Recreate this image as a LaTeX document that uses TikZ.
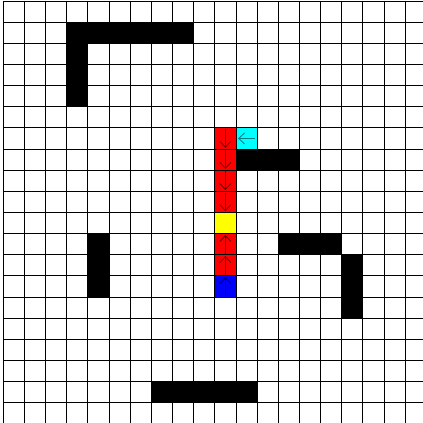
\documentclass[tikz,border=0pt]{standalone}
\usepackage{tikz}
\usetikzlibrary{arrows.meta}
\definecolor{goalcyan}{HTML}{00FFFF}
\definecolor{trailred}{HTML}{FF0000}
\definecolor{markyellow}{HTML}{FFFF00}
\definecolor{startblue}{HTML}{0000FF}

\begin{document}
\begin{tikzpicture}[x=0.5cm, y=-0.5cm,
  wall/.style={fill=black},
  trail/.style={fill=trailred},
  mark cell/.style={fill=markyellow},
  startcell/.style={fill=startblue},
  goalcell/.style={fill=goalcyan},
  gridline/.style={draw=black, line width=0.6pt},
  move/.style={-{Straight Barb[length=1.4mm, width=2.6mm]}, line width=0.55pt}]
  \useasboundingbox (-0.156,-0.047) rectangle (19.844,19.953);
  % walls
  \foreach \c in {3,...,8} \fill[wall] (\c,1) rectangle ++(1,1);
  \foreach \r in {2,...,4} \fill[wall] (3,\r) rectangle ++(1,1);
  \foreach \c in {11,...,13} \fill[wall] (\c,7) rectangle ++(1,1);
  \foreach \r in {11,...,13} \fill[wall] (4,\r) rectangle ++(1,1);
  \foreach \c in {13,...,15} \fill[wall] (\c,11) rectangle ++(1,1);
  \foreach \r in {12,...,14} \fill[wall] (16,\r) rectangle ++(1,1);
  \foreach \c in {7,...,11} \fill[wall] (\c,18) rectangle ++(1,1);
  % path cells
  \foreach \r in {6,...,9,11,12} \fill[trail] (10,\r) rectangle ++(1,1);
  \fill[mark cell] (10,10) rectangle ++(1,1);
  \fill[startcell] (10,13) rectangle ++(1,1);
  \fill[goalcell] (11,6) rectangle ++(1,1);
  % moves
  \foreach \r in {6,...,9}
    \draw[move, black!55!trailred] (10.5,\r+0.06) -- (10.5,\r+0.94);
  \foreach \r in {11,12}
    \draw[move, black!55!trailred] (10.5,\r+0.94) -- (10.5,\r+0.06);
  \draw[move, black!55!startblue] (10.5,13.94) -- (10.5,13.06);
  \draw[move, black!50!goalcyan] (11.9,6.5) -- (11.1,6.5);
  % grid
  \foreach \k in {0,...,20} {
    \draw[gridline] (\k,0) -- (\k,20);
    \draw[gridline] (0,\k) -- (20,\k);
  }
\end{tikzpicture}
\end{document}
